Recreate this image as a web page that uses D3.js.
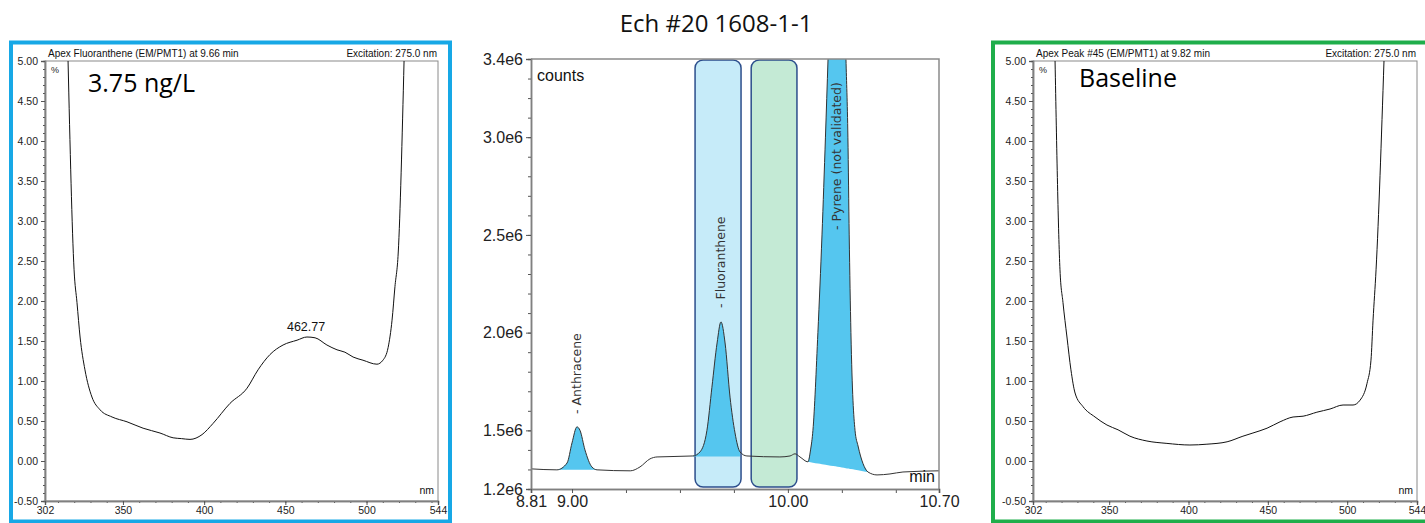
<!DOCTYPE html>
<html>
<head>
<meta charset="utf-8">
<script src="https://cdn.jsdelivr.net/npm/d3@7"></script>
<style>
  body { margin: 0; background: #fff; }
  svg { display: block; }
  .tick text { fill: #222; }
</style>
</head>
<body>
<div id="chart"></div>
<script>
// ---- data ----
// left spectrum: Apex Fluoranthene at 9.66 min
const fluoNm  = [316.2, 319.9, 321.7, 323.6, 326.6, 330.9, 335.9, 343.3, 352.5, 362.4, 372.8, 380.9, 386, 391.3, 398.7, 405.5, 415.9, 426.4, 433.2, 440.5, 448.6, 457.2, 463.3, 468.3, 475.6, 481.8, 486.7, 491.7, 497.8, 506.4, 510.1, 513.3, 515.7, 517.5, 519.5, 523.1];
const fluoPct = [5.0, 2.39, 1.98, 1.55, 1.14, 0.80, 0.64, 0.55, 0.49, 0.41, 0.35, 0.29, 0.28, 0.27, 0.33, 0.47, 0.72, 0.91, 1.14, 1.33, 1.45, 1.51, 1.55, 1.54, 1.45, 1.39, 1.36, 1.30, 1.26, 1.21, 1.26, 1.42, 1.76, 2.18, 2.6, 5.0];
const fluoPeakNm = 462.77;
const fluoPeakPct = 1.55;

// right spectrum: Apex Peak #45 at 9.82 min
const baseNm  = [315.9, 319.0, 320.9, 323.4, 325.9, 328.5, 333.5, 341.1, 348.6, 355.6, 363.1, 373.8, 386.4, 400.9, 411.6, 424.3, 434.3, 440.6, 449.5, 457.7, 465.9, 472.2, 480.9, 489.2, 497.4, 503.7, 508.1, 512.5, 515.0, 516.3, 518.2, 523.2];
const basePct = [5.0, 2.39, 1.98, 1.55, 1.14, 0.85, 0.68, 0.55, 0.45, 0.39, 0.31, 0.25, 0.22, 0.20, 0.21, 0.24, 0.31, 0.35, 0.41, 0.49, 0.55, 0.56, 0.61, 0.65, 0.70, 0.70, 0.76, 0.97, 1.26, 1.76, 2.39, 5.0];

const specYTicks = [-0.5, 0, 0.5, 1, 1.5, 2, 2.5, 3, 3.5, 4, 4.5, 5];
const specXTicks = [302, 350, 400, 450, 500, 544];

// middle chromatogram
const chromTime = [8.81, 8.93, 8.977, 9.00, 9.023, 9.037, 9.06, 9.092, 9.116, 9.27, 9.315, 9.361, 9.394, 9.56, 9.593, 9.625, 9.648, 9.672, 9.69, 9.709, 9.732, 9.755, 9.778, 9.81, 9.963, 10.01, 10.033, 10.056, 10.093, 10.105, 10.116, 10.139, 10.158, 10.174, 10.186, 10.21, 10.23, 10.25, 10.269, 10.278, 10.284, 10.292, 10.311, 10.325, 10.348, 10.371, 10.413, 10.473, 10.533, 10.70];
const chromCounts = [1.303e6, 1.298e6, 1.333e6, 1.436e6, 1.518e6, 1.50e6, 1.40e6, 1.313e6, 1.298e6, 1.293e6, 1.313e6, 1.354e6, 1.364e6, 1.369e6, 1.39e6, 1.50e6, 1.72e6, 1.947e6, 2.055e6, 1.947e6, 1.67e6, 1.487e6, 1.39e6, 1.369e6, 1.364e6, 1.369e6, 1.38e6, 1.364e6, 1.339e6, 1.40e6, 1.5e6, 2.0e6, 2.5e6, 3.0e6, 3.4e6, 4.2e6, 4.5e6, 4.2e6, 3.4e6, 3.0e6, 2.5e6, 2.0e6, 1.5e6, 1.42e6, 1.33e6, 1.287e6, 1.272e6, 1.277e6, 1.287e6, 1.293e6];

const peakNames = ["Anthracene", "Fluoranthene", "Pyrene (not validated)"];
const peakApex = [9.023, 9.69, 10.227];
const peakStart = [8.93, 9.56, 10.093];
const peakEnd = [9.116, 9.778, 10.371];
const peakBaseStart = [1.298e6, 1.366e6, 1.339e6];
const peakBaseEnd = [1.298e6, 1.366e6, 1.287e6];
const peakLabelCounts = [1.584e6, 2.126e6, 2.525e6];

const windowStart = [9.57, 9.83];
const windowEnd = [9.783, 10.042];
const windowFill = ["#c6ebf9", "#c4ead5"];

const chromYTicks = [1.2e6, 1.5e6, 2.0e6, 2.5e6, 3.0e6, 3.4e6];
const chromYMinor = d3.range(12, 35).map(d => d * 1e5);
const chromXTicks = [8.81, 9.00, 10.00, 10.70];
const chromXMinor = [9.25, 9.5, 9.75, 10.25, 10.5];

// ---- setup ----
const width = 1425, height = 523;
const svg = d3.select("#chart").append("svg")
    .attr("width", width)
    .attr("height", height);

const axisColor = "#808080";
const sansSmall = "Liberation Sans, Arial, sans-serif";

function styleAxis(g) {
    g.select(".domain").attr("stroke", axisColor).attr("stroke-width", 1.5);
    g.selectAll(".tick line").attr("stroke", "#555");
}

// draws one emission spectrum panel
function drawSpectrum(opt) {
    const x = d3.scaleLinear().domain([302, 544]).range([opt.left, opt.right]);
    const y = d3.scaleLinear().domain([-0.5, 5]).range([501, 61]);
    const g = svg.append("g");

    // coloured frame
    g.append("rect")
        .attr("x", opt.boxX).attr("y", 42.5)
        .attr("width", opt.boxW).attr("height", 479)
        .attr("fill", "none")
        .attr("stroke", opt.color)
        .attr("stroke-width", 4);

    // plot box
    g.append("rect")
        .attr("x", opt.left).attr("y", 61)
        .attr("width", opt.right - opt.left).attr("height", 440)
        .attr("fill", "none").attr("stroke", "#8a8a8a").attr("stroke-width", 1);

    // minor ticks
    g.append("g").attr("transform", `translate(${opt.left},0)`)
        .call(d3.axisLeft(y).tickValues(d3.range(-5, 51).map(d => d / 10)).tickSize(2).tickFormat(""))
        .call(styleAxis);
    g.append("g").attr("transform", "translate(0,501)")
        .call(d3.axisBottom(x).tickValues(d3.range(310, 541, 10)).tickSize(2).tickFormat(""))
        .call(styleAxis);

    // major ticks
    g.append("g").attr("transform", `translate(${opt.left},0)`)
        .call(d3.axisLeft(y).tickValues(specYTicks).tickSize(4).tickPadding(3).tickFormat(d => d.toFixed(2)))
        .call(styleAxis)
        .selectAll("text").attr("font-family", sansSmall).attr("font-size", 10.5);
    g.append("g").attr("transform", "translate(0,501)")
        .call(d3.axisBottom(x).tickValues(specXTicks).tickSize(4).tickPadding(2).tickFormat(d3.format("d")))
        .call(styleAxis)
        .selectAll("text").attr("font-family", sansSmall).attr("font-size", 10.5);

    const clipId = "clip-" + opt.id;
    g.append("clipPath").attr("id", clipId)
        .append("rect")
        .attr("x", opt.left).attr("y", 61)
        .attr("width", opt.right - opt.left).attr("height", 440);

    const line = d3.line()
        .x(d => x(d[0]))
        .y(d => y(d[1]))
        .curve(d3.curveMonotoneX);

    g.append("path")
        .datum(d3.zip(opt.nm, opt.pct))
        .attr("clip-path", `url(#${clipId})`)
        .attr("d", line)
        .attr("fill", "none")
        .attr("stroke", "#111")
        .attr("stroke-width", 1);

    // texts
    g.append("text").attr("x", opt.left + 3).attr("y", 56.5)
        .attr("font-family", sansSmall).attr("font-size", 10).attr("fill", "#111")
        .text(opt.title);
    g.append("text").attr("x", opt.right - 1).attr("y", 56.5)
        .attr("text-anchor", "end")
        .attr("font-family", sansSmall).attr("font-size", 10).attr("fill", "#111")
        .text("Excitation: 275.0 nm");
    g.append("text").attr("x", opt.left + 6).attr("y", 73)
        .attr("font-family", sansSmall).attr("font-size", 9).attr("fill", "#222")
        .text("%");
    g.append("text").attr("x", opt.right - 4).attr("y", 494)
        .attr("text-anchor", "end")
        .attr("font-family", sansSmall).attr("font-size", 10.5).attr("fill", "#111")
        .text("nm");
    g.append("text").attr("x", opt.left + opt.noteDx).attr("y", opt.noteY)
        .attr("font-family", "Open Sans, sans-serif").attr("font-size", opt.noteSize).attr("fill", "#000")
        .text(opt.note);

    return { x, y, g };
}

// ---- left panel ----
const left = drawSpectrum({
    id: "fluo", left: 45, right: 438, boxX: 11, boxW: 439, color: "#17a8e6",
    nm: fluoNm, pct: fluoPct,
    title: "Apex Fluoranthene (EM/PMT1) at 9.66 min",
    note: "3.75 ng/L", noteDx: 43, noteY: 92, noteSize: 25
});
left.g.append("text")
    .attr("x", left.x(fluoPeakNm))
    .attr("y", left.y(fluoPeakPct) - 6)
    .attr("text-anchor", "middle")
    .attr("font-family", sansSmall).attr("font-size", 12.5).attr("fill", "#111")
    .text(fluoPeakNm.toFixed(2));

// ---- right panel ----
drawSpectrum({
    id: "base", left: 1033, right: 1417, boxX: 993, boxW: 440, color: "#1fae4b",
    nm: baseNm, pct: basePct,
    title: "Apex Peak #45 (EM/PMT1) at 9.82 min",
    note: "Baseline", noteDx: 46, noteY: 87, noteSize: 25
});

// ---- middle chromatogram ----
const cx = d3.scaleLinear().domain([8.81, 10.70]).range([531, 939]);
const cy = d3.scaleLinear().domain([1.2e6, 3.4e6]).range([489, 59]);
const mid = svg.append("g");

mid.append("text")
    .attr("x", 716).attr("y", 32)
    .attr("text-anchor", "middle")
    .attr("font-family", "Open Sans, sans-serif")
    .attr("font-size", 24).attr("fill", "#111")
    .text("Ech #20 1608-1-1");

mid.append("clipPath").attr("id", "clip-chrom")
    .append("rect")
    .attr("x", cx.range()[0]).attr("y", cy.range()[1])
    .attr("width", cx.range()[1] - cx.range()[0])
    .attr("height", cy.range()[0] - cy.range()[1]);

// integration windows
mid.selectAll("rect.window")
    .data(windowStart.map((s, i) => ({ s, e: windowEnd[i], fill: windowFill[i] })))
    .join("rect")
    .attr("class", "window")
    .attr("x", d => cx(d.s))
    .attr("y", cy(3.4e6) + 1)
    .attr("width", d => cx(d.e) - cx(d.s))
    .attr("height", cy(1.2e6) - cy(3.4e6) - 3)
    .attr("rx", 8).attr("ry", 8)
    .attr("fill", d => d.fill)
    .attr("stroke", "#2c4e8c")
    .attr("stroke-width", 1.5);

const trace = d3.zip(chromTime, chromCounts);

// peak fills, closed against a straight baseline
const area = d3.area()
    .x(d => cx(d[0]))
    .y1(d => cy(d[1]))
    .curve(d3.curveMonotoneX);

peakStart.forEach((s, i) => {
    const pts = trace.filter(d => d[0] >= s - 1e-9 && d[0] <= peakEnd[i] + 1e-9);
    const base = d3.scaleLinear().domain([s, peakEnd[i]]).range([peakBaseStart[i], peakBaseEnd[i]]);
    mid.append("path")
        .datum(pts)
        .attr("clip-path", "url(#clip-chrom)")
        .attr("d", area.y0(d => cy(base(d[0]))))
        .attr("fill", "#55c6ef");
});

mid.append("path")
    .datum(trace)
    .attr("clip-path", "url(#clip-chrom)")
    .attr("d", d3.line().x(d => cx(d[0])).y(d => cy(d[1])).curve(d3.curveMonotoneX))
    .attr("fill", "none")
    .attr("stroke", "#333")
    .attr("stroke-width", 1);

// peak names
mid.selectAll("text.peak")
    .data(peakNames)
    .join("text")
    .attr("class", "peak")
    .attr("transform", (d, i) => `translate(${cx(peakApex[i])},${cy(peakLabelCounts[i])}) rotate(-90)`)
    .attr("dy", "0.35em")
    .attr("font-family", "DejaVu Sans, Verdana, sans-serif")
    .attr("font-size", 12.5)
    .attr("fill", "#333")
    .text(d => "- " + d);

// plot frame
mid.append("path")
    .attr("d", `M${cx.range()[0]},${cy.range()[1]}H${cx.range()[1]}V${cy.range()[0]}`)
    .attr("fill", "none").attr("stroke", "#8a8a8a").attr("stroke-width", 1.5);

// axes
mid.append("g").attr("transform", "translate(531,0)")
    .call(d3.axisLeft(cy).tickValues(chromYMinor).tickSize(3).tickFormat(""))
    .call(styleAxis);
mid.append("g").attr("transform", "translate(531,0)")
    .call(d3.axisLeft(cy).tickValues(chromYTicks).tickSize(5).tickPadding(3)
        .tickFormat(d => (d / 1e6).toFixed(1) + "e6"))
    .call(styleAxis)
    .selectAll("text").attr("font-family", sansSmall).attr("font-size", 16);

mid.append("g").attr("transform", "translate(0,489)")
    .call(d3.axisBottom(cx).tickValues(chromXMinor).tickSize(4).tickFormat(""))
    .call(styleAxis);
mid.append("g").attr("transform", "translate(0,489)")
    .call(d3.axisBottom(cx).tickValues(chromXTicks).tickSize(4).tickPadding(3).tickFormat(d3.format(".2f")))
    .call(styleAxis)
    .selectAll("text").attr("font-family", sansSmall).attr("font-size", 16);

mid.append("text").attr("x", 537).attr("y", 81)
    .attr("font-family", sansSmall).attr("font-size", 16).attr("fill", "#111")
    .text("counts");
mid.append("text").attr("x", 935).attr("y", 482)
    .attr("text-anchor", "end")
    .attr("font-family", sansSmall).attr("font-size", 16).attr("fill", "#111")
    .text("min");
</script>
</body>
</html>
